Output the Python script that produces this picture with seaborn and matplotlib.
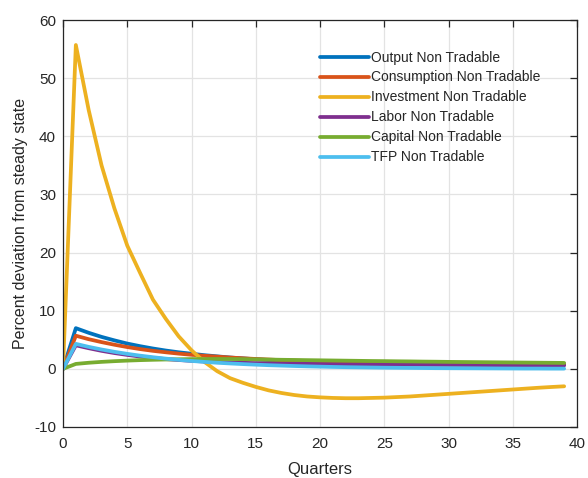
import numpy as np
import pandas as pd
import matplotlib
matplotlib.use("Agg")
import matplotlib.pyplot as plt
import seaborn as sns

quarters = list(range(40))

output_nt = [0, 7.0, 6.2, 5.5, 4.9, 4.35, 3.9, 3.5, 3.15, 2.85, 2.6, 2.35, 2.15, 1.95, 1.8, 1.65,
             1.52, 1.4, 1.3, 1.22, 1.15, 1.09, 1.04, 0.99, 0.95, 0.92, 0.89, 0.86, 0.84, 0.82,
             0.8, 0.78, 0.77, 0.75, 0.74, 0.73, 0.72, 0.71, 0.7, 0.69]
consumption_nt = [0, 5.7, 5.1, 4.6, 4.15, 3.75, 3.4, 3.1, 2.85, 2.62, 2.42, 2.25, 2.1, 1.95, 1.82,
                  1.7, 1.6, 1.5, 1.42, 1.35, 1.29, 1.24, 1.19, 1.15, 1.11, 1.08, 1.05, 1.02, 1.0,
                  0.98, 0.96, 0.94, 0.93, 0.91, 0.9, 0.89, 0.88, 0.87, 0.86, 0.85]
investment_nt = [0, 55.7, 44.5, 35.0, 27.6, 21.2, 16.5, 11.9, 8.6, 5.6, 3.2, 1.2, -0.4, -1.6, -2.4,
                 -3.1, -3.7, -4.15, -4.5, -4.75, -4.9, -5.0, -5.05, -5.05, -5.0, -4.95, -4.85,
                 -4.75, -4.6, -4.45, -4.3, -4.15, -4.0, -3.85, -3.7, -3.55, -3.4, -3.25, -3.12, -3.0]
labor_nt = [0, 4.05, 3.55, 3.1, 2.72, 2.4, 2.12, 1.88, 1.68, 1.52, 1.38, 1.27, 1.18, 1.1, 1.04,
            0.99, 0.95, 0.91, 0.88, 0.85, 0.83, 0.81, 0.79, 0.77, 0.75, 0.74, 0.72, 0.71, 0.7,
            0.69, 0.68, 0.67, 0.66, 0.65, 0.64, 0.63, 0.62, 0.61, 0.6, 0.6]
capital_nt = [0, 0.85, 1.05, 1.2, 1.32, 1.42, 1.5, 1.56, 1.61, 1.65, 1.68, 1.69, 1.7, 1.69, 1.67,
              1.64, 1.6, 1.56, 1.53, 1.5, 1.47, 1.44, 1.41, 1.38, 1.35, 1.33, 1.3, 1.28, 1.25,
              1.23, 1.2, 1.18, 1.16, 1.14, 1.12, 1.1, 1.08, 1.06, 1.04, 1.02]
tfp_nt = [0, 4.3, 3.78, 3.33, 2.93, 2.58, 2.27, 2.0, 1.76, 1.55, 1.36, 1.2, 1.05, 0.93, 0.82,
          0.72, 0.63, 0.56, 0.49, 0.43, 0.38, 0.33, 0.29, 0.26, 0.23, 0.2, 0.18, 0.16, 0.14,
          0.12, 0.11, 0.1, 0.09, 0.08, 0.07, 0.06, 0.05, 0.05, 0.04, 0.04]

labels = ["Output Non Tradable", "Consumption Non Tradable", "Investment Non Tradable",
          "Labor Non Tradable", "Capital Non Tradable", "TFP Non Tradable"]
colors = ["#0072BD", "#D95319", "#EDB120", "#7E2F8E", "#77AC30", "#4DBEEE"]
series = [output_nt, consumption_nt, investment_nt, labor_nt, capital_nt, tfp_nt]

xticks = [0, 5, 10, 15, 20, 25, 30, 35, 40]
yticks = [-10, 0, 10, 20, 30, 40, 50, 60]

df = pd.DataFrame({"Quarter": quarters * len(labels),
                   "Value": [v for s in series for v in s],
                   "Series": [lab for lab in labels for _ in quarters]})

sns.set_theme(style="white")
plt.rcParams["font.family"] = ["Liberation Sans", "DejaVu Sans"]
plt.rcParams["axes.unicode_minus"] = False

fig = plt.figure(figsize=(5.88, 4.78), dpi=100)
ax = fig.add_axes([63 / 588, 1 - 427 / 478, 514 / 588, 407 / 478])

sns.lineplot(data=df, x="Quarter", y="Value", hue="Series", hue_order=labels,
             palette=colors, linewidth=2.7, ax=ax, legend=False, sort=False)

ax.set_xlim(0, 40)
ax.set_ylim(-10, 60)
ax.set_xticks(xticks)
ax.set_yticks(yticks)
ax.grid(True, color="#e3e3e3", linewidth=0.9)
ax.set_axisbelow(True)
for sp in ax.spines.values():
    sp.set_color("#262626")
    sp.set_linewidth(0.9)
ax.tick_params(direction="in", length=5, width=0.9, color="#262626",
               top=True, right=True, labelsize=11, labelcolor="#262626")
ax.tick_params(axis="x", pad=7)
ax.tick_params(axis="y", pad=5)
ax.set_xlabel("Quarters", fontsize=12, color="#262626", labelpad=8)
ax.set_ylabel("Percent deviation from steady state", fontsize=11.5, color="#262626", labelpad=4)

handles = [matplotlib.lines.Line2D([], [], color=c, linewidth=2.7) for c in colors]
leg = ax.legend(handles, labels, loc="upper left", bbox_to_anchor=(0.500, 0.925),
                frameon=False, fontsize=10, handlelength=3.5, handletextpad=0.2,
                labelspacing=0.43, borderpad=0, borderaxespad=0)
for t in leg.get_texts():
    t.set_color("#262626")

fig.savefig("out.png", dpi=100)
